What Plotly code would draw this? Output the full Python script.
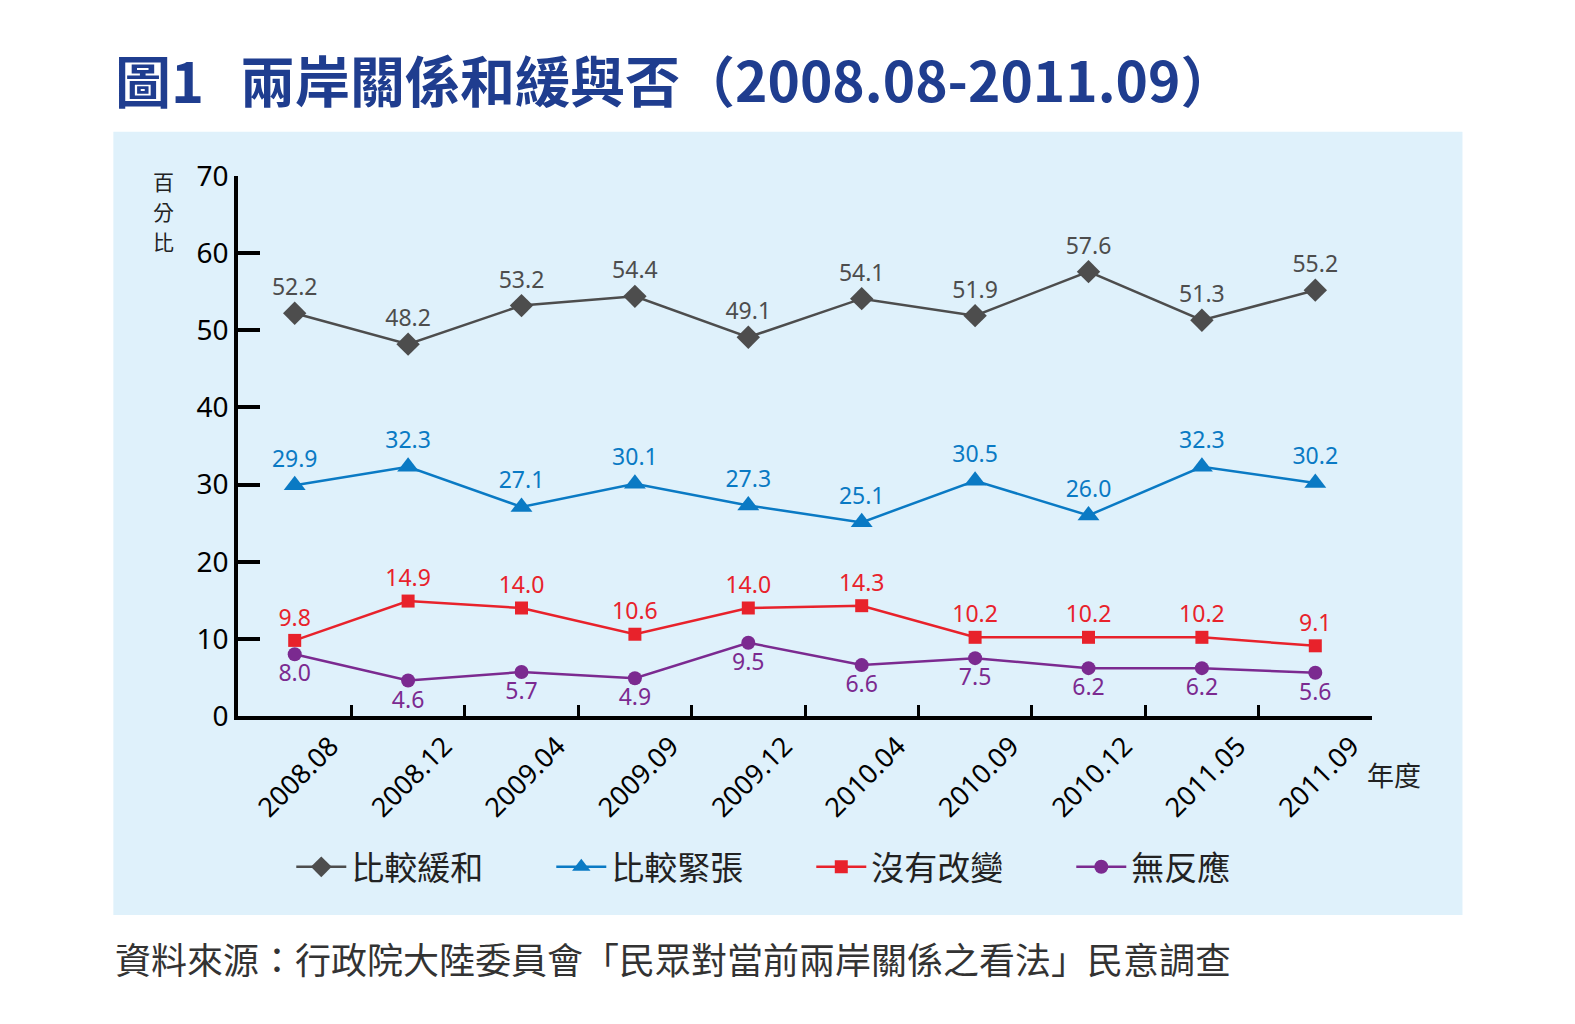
import plotly.graph_objects as go

# 調查期間
periods = ["2008.08", "2008.12", "2009.04", "2009.09", "2009.12",
           "2010.04", "2010.09", "2010.12", "2011.05", "2011.09"]

easing = [52.2, 48.2, 53.2, 54.4, 49.1, 54.1, 51.9, 57.6, 51.3, 55.2]    # 比較緩和
tense = [29.9, 32.3, 27.1, 30.1, 27.3, 25.1, 30.5, 26.0, 32.3, 30.2]     # 比較緊張
no_change = [9.8, 14.9, 14.0, 10.6, 14.0, 14.3, 10.2, 10.2, 10.2, 9.1]   # 沒有改變
no_answer = [8.0, 4.6, 5.7, 4.9, 9.5, 6.6, 7.5, 6.2, 6.2, 5.6]           # 無反應

FONT = "Noto Sans, Noto Sans CJK TC"
CJK = "Noto Sans CJK TC"

# plot area in picture pixels: x 237..1365, y 175 (70) .. 712 (0)
def px(x):
    return (x - 237) / 1128

def py(y):
    return (712 - y) / 537

series = [
    ("比較緩和", easing, "#4d4d4d", "diamond", 18, "top center"),
    ("比較緊張", tense, "#0a7ac4", "triangle-up", 19, "top center"),
    ("沒有改變", no_change, "#e8222b", "square", 13, "top center"),
    ("無反應", no_answer, "#7b2a90", "circle", 14, "bottom center"),
]

fig = go.Figure()
for name, vals, col, sym, size, pos in series:
    fig.add_trace(go.Scatter(
        x=periods, y=vals, name=name, mode="lines+markers+text",
        line=dict(color=col, width=2.5),
        marker=dict(symbol=sym, size=size, color=col),
        text=vals, texttemplate="%{y:.1f}", textposition=pos,
        textfont=dict(family=FONT, size=23, color=col),
    ))

fig.update_layout(
    width=1575, height=1024,
    margin=dict(l=230, r=211, t=168, b=316),
    paper_bgcolor="white", plot_bgcolor="rgba(0,0,0,0)",
    font=dict(family=FONT, color="black"),
    showlegend=True,
    legend=dict(orientation="h", x=px(290), y=py(862), xanchor="left", yanchor="middle",
                font=dict(family=CJK, size=33, color="#222"),
                entrywidth=195, entrywidthmode="pixels",
                bgcolor="rgba(0,0,0,0)", itemwidth=50),
    xaxis=dict(type="category", range=[-0.5, 9.5], showline=True, linecolor="black",
               linewidth=3.5, ticks="inside", tickson="boundaries", ticklen=11,
               tickwidth=3, tickcolor="black", tickangle=-45, showgrid=False,
               zeroline=False, ticklabelshift=36,
               tickfont=dict(family=FONT, size=27, color="black")),
    yaxis=dict(range=[0, 70], dtick=10, showline=True, linecolor="black",
               linewidth=3.5, ticks="inside", ticklen=22, tickwidth=3.5,
               tickcolor="black", showgrid=False, zeroline=False,
               tickfont=dict(family=FONT, size=28, color="black")),
    shapes=[dict(type="rect", xref="paper", yref="paper", layer="below",
                 x0=px(113), x1=px(1455), y0=py(910), y1=py(131),
                 fillcolor="#dff1fb", line=dict(width=0))],
    annotations=[
        dict(text="<b>圖1</b>", xref="paper", yref="paper", x=px(113), y=py(78),
             xanchor="left", yanchor="middle", showarrow=False,
             font=dict(family=CJK, size=56, color="#1f3d8f")),
        dict(text="<b>兩岸關係和緩與否（2008.08-2011.09）</b>",
             xref="paper", yref="paper", x=px(237), y=py(78),
             xanchor="left", yanchor="middle", showarrow=False,
             font=dict(family=CJK, size=55, color="#1f3d8f")),
        dict(text="年度", xref="paper", yref="paper", x=px(1387), y=py(770),
             xanchor="center", yanchor="middle", showarrow=False,
             font=dict(family=CJK, size=27, color="#222")),
        dict(text="資料來源：行政院大陸委員會「民眾對當前兩岸關係之看法」民意調查",
             xref="paper", yref="paper", x=px(113), y=py(953),
             xanchor="left", yanchor="middle", showarrow=False,
             font=dict(family=CJK, size=36, color="#333")),
    ],
)

# 縱軸標題「百分比」直排
for ch, yy in zip("百分比", [180, 210, 240]):
    fig.add_annotation(text=ch, xref="paper", yref="paper", x=px(163), y=py(yy),
                       xanchor="center", yanchor="middle", showarrow=False,
                       borderpad=0, font=dict(family=CJK, size=21, color="#222"))

fig.write_html("out.html")
